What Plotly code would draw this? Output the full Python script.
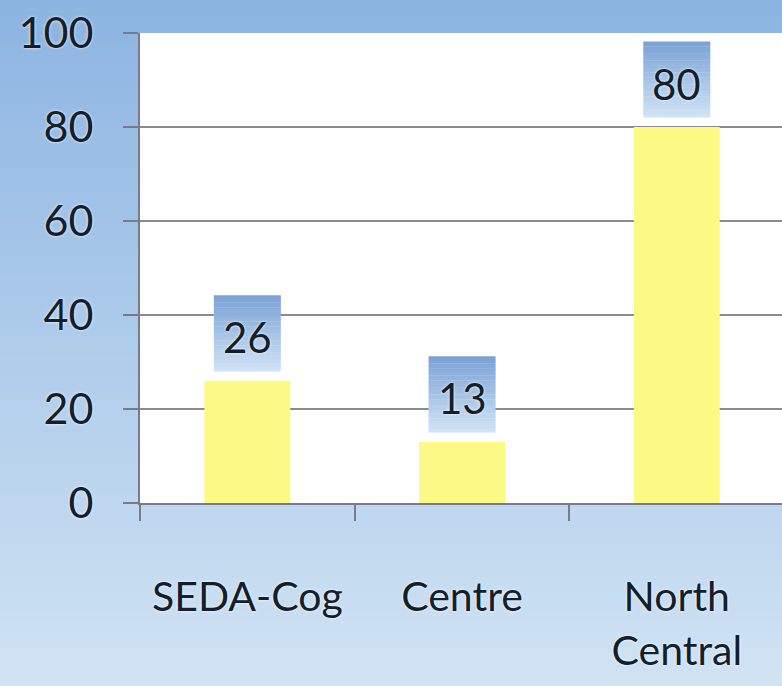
import plotly.graph_objects as go

categories = ["SEDA-Cog", "Centre", "North<br>Central"]
values = [26, 13, 80]
y_ticks = [0, 20, 40, 60, 80, 100]

FONT = "Lato, sans-serif"
TXT = "#13202b"


def lerp(c1, c2, t):
    return "rgb(%d,%d,%d)" % tuple(round(a + (b - a) * t) for a, b in zip(c1, c2))


fig = go.Figure()
fig.add_trace(go.Bar(
    x=list(range(len(categories))), y=values, width=0.4,
    marker=dict(color="#FAFA84", line=dict(width=0)),
    hoverinfo="skip", showlegend=False,
))

shapes = []
# page background gradient (paper coords)
n_bg = 60
bg_top, bg_bot = (140, 180, 226), (208, 227, 243)
y_lo, y_hi = -0.40, 1.08
for k in range(n_bg):
    t = k / (n_bg - 1)
    y1 = y_hi - (y_hi - y_lo) * k / n_bg
    y0 = y_hi - (y_hi - y_lo) * (k + 1) / n_bg - 0.002
    shapes.append(dict(type="rect", xref="paper", yref="paper", x0=-0.3, x1=1.1,
                       y0=y0, y1=y1, fillcolor=lerp(bg_top, bg_bot, t),
                       line=dict(width=0), layer="below"))
# white plot area
shapes.append(dict(type="rect", xref="paper", yref="paper", x0=0, x1=1, y0=0, y1=1,
                   fillcolor="white", line=dict(width=0), layer="below"))

# data-label boxes with vertical gradient
n_box = 32
box_top, box_bot = (122, 163, 214), (208, 226, 245)
annotations = []
for i, v in enumerate(values):
    lo, hi = v + 2.0, v + 18.2
    for k in range(n_box):
        t = k / (n_box - 1)
        y1 = hi - (hi - lo) * k / n_box
        y0 = hi - (hi - lo) * (k + 1) / n_box - 0.08
        shapes.append(dict(type="rect", xref="x", yref="y", x0=i - 0.156, x1=i + 0.156,
                           y0=max(y0, lo), y1=y1, fillcolor=lerp(box_top, box_bot, t),
                           line=dict(width=0), layer="above"))
    annotations.append(dict(x=i, y=(lo + hi) / 2, xref="x", yref="y", text=str(v),
                            showarrow=False, yanchor="middle", yshift=-4,
                            font=dict(family=FONT, size=42, color=TXT,
                                      shadow="0px 0px 3px #ffffff")))

axis_col = "#7a7a8c"
fig.update_layout(
    template="none",
    width=782, height=686,
    margin=dict(l=140, r=0, t=33, b=183, pad=0),
    paper_bgcolor="#b0cdea",
    plot_bgcolor="rgba(0,0,0,0)",
    shapes=shapes,
    annotations=annotations,
    showlegend=False,
    font=dict(family=FONT, size=42, color=TXT),
    xaxis=dict(
        type="linear", range=[-0.5, 2.49],
        tickmode="array", tickvals=list(range(len(categories))), ticktext=categories,
        showgrid=False, zeroline=False,
        showline=True, linecolor=axis_col, linewidth=2,
        ticks="", ticklabelstandoff=57, automargin=False,
        tickfont=dict(family=FONT, size=41, color=TXT, shadow="0px 0px 3px #ffffff"),
    ),
    xaxis2=dict(
        overlaying="x", range=[-0.5, 2.49], tickmode="array", tickvals=[-0.5, 0.5, 1.5, 2.5],
        showticklabels=False, ticks="outside", ticklen=17, tickwidth=2, tickcolor=axis_col,
        showgrid=False, zeroline=False, side="bottom", automargin=False,
    ),
    yaxis=dict(
        range=[0, 100], tickmode="array", tickvals=y_ticks,
        showgrid=True, gridcolor="#8a8a8f", gridwidth=2,
        zeroline=False, showline=True, linecolor=axis_col, linewidth=2,
        ticks="outside", ticklen=15, tickwidth=2, tickcolor=axis_col,
        ticklabelstandoff=21, automargin=False,
        tickfont=dict(family=FONT, size=43, color=TXT, shadow="0px 0px 3px #ffffff"),
    ),
)
fig.add_trace(go.Scatter(x=[-0.5], y=[0], xaxis="x2", yaxis="y", mode="markers",
                         marker=dict(opacity=0), hoverinfo="skip", showlegend=False))
fig.write_html("out.html", config={"displayModeBar": False},
               post_script="document.body.style.margin='0';document.body.style.overflow='hidden';")
